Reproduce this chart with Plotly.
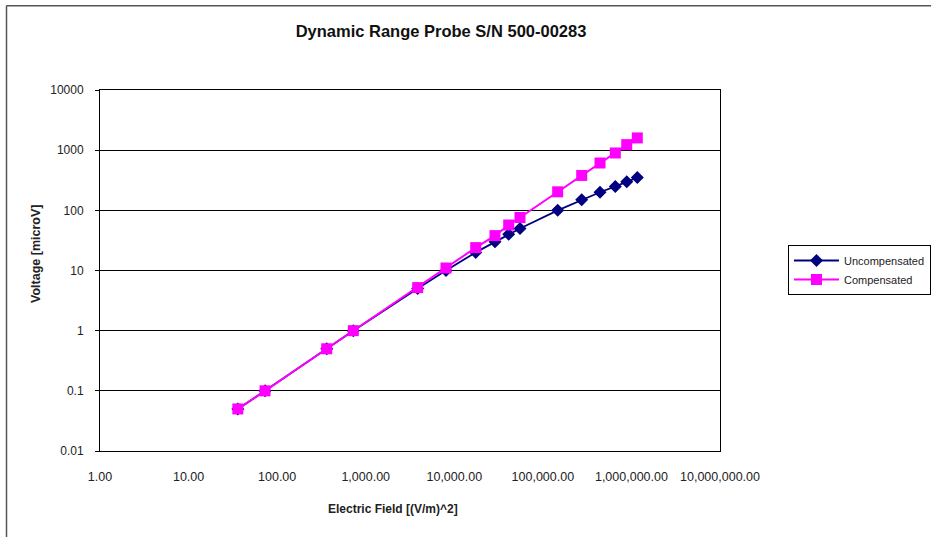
import plotly.graph_objects as go

# Data
field = [36, 73, 363, 724, 3860, 8060, 17460, 28800, 41150, 55200,
         147000, 274600, 442000, 658000, 885000, 1165000]
uncompensated = [0.05, 0.1, 0.5, 1, 5, 10, 20, 30, 40, 50,
                 100, 150, 200, 250, 300, 350]
compensated = [0.05, 0.1, 0.5, 1, 5.2, 11, 24, 38, 57, 76,
               203, 380, 612, 898, 1236, 1597]

x_tickvals = [1, 10, 100, 1000, 10000, 100000, 1000000, 10000000]
x_ticktext = ["1.00", "10.00", "100.00", "1,000.00", "10,000.00",
              "100,000.00", "1,000,000.00", "10,000,000.00"]
y_tickvals = [0.01, 0.1, 1, 10, 100, 1000, 10000]
y_ticktext = ["0.01", "0.1", "1", "10", "100", "1000", "10000"]

FONT = "Liberation Sans, Arial, sans-serif"
TXT = "#222222"

W, H = 931, 537
# plot area in pixels
PL, PR, PT, PB = 100, 720, 90.5, 450.5
PW, PH = PR - PL, PB - PT


def px(x):
    return (x - PL) / PW


def py(y):
    return (PB - y) / PH


fig = go.Figure()
fig.add_trace(go.Scatter(
    x=field, y=uncompensated, name="Uncompensated", mode="lines+markers",
    line=dict(color="#000080", width=1.8),
    marker=dict(symbol="diamond", size=10, color="#000080"),
))
fig.add_trace(go.Scatter(
    x=field, y=compensated, name="Compensated", mode="lines+markers",
    line=dict(color="#FF00FF", width=2),
    marker=dict(symbol="square", size=11, color="#FF00FF"),
))

fig.update_layout(
    width=W, height=H, autosize=False,
    margin=dict(l=PL, r=W - PR, t=round(PT), b=round(H - PB), pad=0),
    paper_bgcolor="white", plot_bgcolor="white",
    font=dict(family=FONT, size=12, color=TXT),
    title=dict(text="<b>Dynamic Range Probe S/N 500-00283</b>",
               x=441 / W, xref="container", xanchor="center",
               y=1 - 31 / H, yref="container", yanchor="middle",
               font=dict(family=FONT, size=16.5, color="#111111")),
    showlegend=True,
    legend=dict(x=788 / W, y=1 - 245 / H, xref="container", yref="container",
                xanchor="left", yanchor="top",
                bordercolor="black", borderwidth=1, bgcolor="white",
                font=dict(family=FONT, size=11, color=TXT),
                itemwidth=45, tracegroupgap=0),
    xaxis=dict(type="log", range=[0, 7], tickvals=x_tickvals, ticktext=x_ticktext,
               showgrid=False, showline=True, linecolor="black", linewidth=1,
               mirror=True, ticks="", ticklabelstandoff=14, zeroline=False,
               tickfont=dict(family=FONT, size=12.5, color=TXT)),
    yaxis=dict(type="log", range=[-2, 4], tickvals=y_tickvals, ticktext=y_ticktext,
               showgrid=True, gridcolor="black", gridwidth=1,
               showline=True, linecolor="black", linewidth=1, mirror=True,
               ticks="outside", ticklen=4, tickcolor="black", ticklabelstandoff=9,
               tickfont=dict(family=FONT, size=12, color=TXT)),
    annotations=[
        dict(text="<b>Electric Field [(V/m)^2]</b>", xref="paper", yref="paper",
             x=px(393), y=py(508), xanchor="center", yanchor="middle",
             showarrow=False, font=dict(family=FONT, size=12, color=TXT)),
        dict(text="<b>Voltage [microV]</b>", xref="paper", yref="paper",
             x=px(36), y=py(254), xanchor="center", yanchor="middle",
             textangle=-90, showarrow=False,
             font=dict(family=FONT, size=12.5, color=TXT)),
    ],
    shapes=[
        dict(type="line", xref="paper", yref="paper",
             x0=px(6.5), x1=px(1000), y0=py(6.5), y1=py(6.5),
             line=dict(color="#555555", width=1.5), layer="below"),
        dict(type="line", xref="paper", yref="paper",
             x0=px(6.5), x1=px(6.5), y0=py(6.5), y1=py(600),
             line=dict(color="#555555", width=1.5), layer="below"),
    ],
)

fig.write_html(
    "out.html",
    config={"displayModeBar": False},
    post_script="document.body.style.margin='0';document.body.style.overflow='hidden';",
)
